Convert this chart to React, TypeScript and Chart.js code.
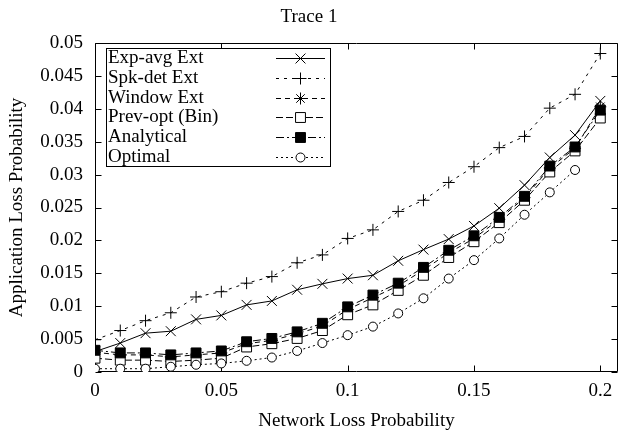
import React, { useEffect, useRef } from 'react';
import { Chart, registerables } from 'chart.js';
import { drawPoint } from 'chart.js/helpers';

Chart.register(...registerables);

const xValues = [0, 0.01, 0.02, 0.03, 0.04, 0.05, 0.06, 0.07, 0.08, 0.09, 0.1, 0.11, 0.12, 0.13, 0.14, 0.15, 0.16, 0.17, 0.18, 0.19, 0.2];

const expAvgExt = [0.0031, 0.0044, 0.0059, 0.0062, 0.0080, 0.0086, 0.0102, 0.0108, 0.0125, 0.0134, 0.0142, 0.0147, 0.0169, 0.0186, 0.0202, 0.0222, 0.0249, 0.0284, 0.0326, 0.0360, 0.0412];
const spkDetExt = [0.0049, 0.0063, 0.0078, 0.0090, 0.0114, 0.0122, 0.0135, 0.0145, 0.0166, 0.0178, 0.0203, 0.0216, 0.0244, 0.0261, 0.0288, 0.0312, 0.0341, 0.0358, 0.0401, 0.0422, 0.0484];
const windowExt = [0.0030, 0.0026, 0.0026, 0.0023, 0.0026, 0.0029, 0.0043, 0.0048, 0.0058, 0.0070, 0.0095, 0.0113, 0.0131, 0.0155, 0.0181, 0.0203, 0.0232, 0.0265, 0.0310, 0.0340, 0.0403];
const prevOptBin = [0.0021, 0.0018, 0.0018, 0.0016, 0.0018, 0.0021, 0.0038, 0.0043, 0.0051, 0.0063, 0.0087, 0.0102, 0.0124, 0.0147, 0.0174, 0.0198, 0.0227, 0.0261, 0.0304, 0.0336, 0.0386];
const analytical = [0.0033, 0.0029, 0.0029, 0.0026, 0.0029, 0.0032, 0.0046, 0.0051, 0.0061, 0.0074, 0.0099, 0.0117, 0.0135, 0.0159, 0.0185, 0.0207, 0.0235, 0.0267, 0.0313, 0.0342, 0.0398];
const optimal = [0.0005, 0.0005, 0.0005, 0.0008, 0.0011, 0.0013, 0.0017, 0.0022, 0.0032, 0.0044, 0.0056, 0.0069, 0.0089, 0.0112, 0.0142, 0.0170, 0.0203, 0.0239, 0.0273, 0.0307];

const seriesNames = ['Exp-avg Ext', 'Spk-det Ext', 'Window Ext', 'Prev-opt (Bin)', 'Analytical', 'Optimal'];
const xTickValues = [0, 0.05, 0.1, 0.15, 0.2];
const yTickValues = [0, 0.005, 0.01, 0.015, 0.02, 0.025, 0.03, 0.035, 0.04, 0.045, 0.05];

const FONT = "'Liberation Serif', 'Times New Roman', serif";

const toPoints = (ys: number[]) => ys.map((y, i) => ({ x: xValues[i], y }));

const styles = [
  { pointStyle: 'crossRot', radius: 7, dash: [] as number[], fill: '#000' },
  { pointStyle: 'cross', radius: 6, dash: [3, 5], fill: '#000' },
  { pointStyle: 'star', radius: 6, dash: [5, 4], fill: '#000' },
  { pointStyle: 'rect', radius: 7, dash: [7, 3], fill: '#fff' },
  { pointStyle: 'rect', radius: 7, dash: [8, 3, 2, 3], fill: '#000' },
  { pointStyle: 'circle', radius: 4.5, dash: [2, 3], fill: '#fff' },
];

const frameTicksPlugin = {
  id: 'frameTicks',
  beforeDatasetsDraw(chart: any) {
    const { ctx, chartArea } = chart;
    const l = Math.round(chartArea.left) + 0.5;
    const r = Math.round(chartArea.right) - 0.5;
    const t = Math.round(chartArea.top) + 0.5;
    const b = Math.round(chartArea.bottom) - 0.5;
    const xs = chart.scales.x;
    const ys = chart.scales.y;
    const len = 6;
    ctx.save();
    ctx.strokeStyle = '#000';
    ctx.lineWidth = 1;
    ctx.setLineDash([]);
    ctx.beginPath();
    ctx.rect(l, t, r - l, b - t);
    xTickValues.forEach((v) => {
      const px = Math.round(xs.getPixelForValue(v)) + 0.5;
      ctx.moveTo(px, b);
      ctx.lineTo(px, b - len);
      ctx.moveTo(px, t);
      ctx.lineTo(px, t + len);
    });
    yTickValues.forEach((v) => {
      const py = Math.round(ys.getPixelForValue(v)) + 0.5;
      ctx.moveTo(l, py);
      ctx.lineTo(l + len, py);
      ctx.moveTo(r, py);
      ctx.lineTo(r - len, py);
    });
    ctx.stroke();
    ctx.restore();
  },
};

const keyPlugin = {
  id: 'gnuKey',
  afterDatasetsDraw(chart: any) {
    const { ctx } = chart;
    const boxL = 106.5, boxT = 48.5, boxR = 330.5, boxB = 166.5;
    const rowH = 19.7;
    const firstRow = 58.3;
    ctx.save();
    ctx.fillStyle = '#fff';
    ctx.fillRect(boxL, boxT, boxR - boxL, boxB - boxT);
    ctx.strokeStyle = '#000';
    ctx.lineWidth = 1;
    ctx.setLineDash([]);
    ctx.strokeRect(boxL, boxT, boxR - boxL, boxB - boxT);
    ctx.font = `19px ${FONT}`;
    ctx.textBaseline = 'middle';
    ctx.textAlign = 'left';
    chart.data.datasets.forEach((ds: any, i: number) => {
      const y = firstRow + i * rowH;
      ctx.fillStyle = '#000';
      ctx.fillText(ds.label, 108, y);
      ctx.beginPath();
      ctx.setLineDash(styles[i].dash);
      ctx.moveTo(276, Math.round(y) + 0.5);
      ctx.lineTo(325, Math.round(y) + 0.5);
      ctx.stroke();
      ctx.setLineDash([]);
      ctx.fillStyle = styles[i].fill;
      ctx.strokeStyle = '#000';
      drawPoint(ctx, { pointStyle: styles[i].pointStyle, rotation: 0, radius: styles[i].radius, borderWidth: 1 } as any, 300.5, Math.round(y) + 0.5);
    });
    ctx.restore();
  },
};

export default function App() {
  const ref = useRef<HTMLCanvasElement>(null);
  useEffect(() => {
    document.body.style.margin = '0';
    const seriesData = [expAvgExt, spkDetExt, windowExt, prevOptBin, analytical, optimal];
    const chart = new Chart(ref.current as HTMLCanvasElement, {
      type: 'line',
      data: {
        datasets: seriesData.map((ys, i) => ({
          label: seriesNames[i],
          data: toPoints(ys),
          borderColor: '#000',
          borderWidth: 1,
          borderDash: styles[i].dash,
          backgroundColor: styles[i].fill,
          pointStyle: styles[i].pointStyle as any,
          pointRadius: styles[i].radius,
          pointBorderWidth: 1,
          pointBorderColor: '#000',
          pointBackgroundColor: styles[i].fill,
          tension: 0,
          fill: false,
          order: 10 - i,
        })),
      },
      options: {
        animation: false,
        responsive: false,
        devicePixelRatio: 1,
        layout: { padding: { left: 0, right: 8, top: 0, bottom: 0 } },
        plugins: {
          legend: { display: false },
          tooltip: { enabled: false },
          title: {
            display: true,
            text: 'Trace 1',
            color: '#000',
            font: { family: FONT, size: 19, weight: 'normal' as any, lineHeight: 1.2 },
            padding: { top: 6, bottom: 14.2 },
          },
        },
        scales: {
          x: {
            type: 'linear',
            min: 0,
            max: 0.207,
            grid: { display: false, drawTicks: false },
            border: { display: false },
            afterFit: (s: any) => { s.height = 67; },
            ticks: {
              stepSize: 0.05,
              includeBounds: false,
              padding: 8,
              color: '#000',
              maxRotation: 0,
              font: { family: FONT, size: 19 },
              callback: (v: any) => String(Number(Number(v).toFixed(3))),
            },
            title: {
              display: true,
              text: 'Network Loss Probability',
              color: '#000',
              font: { family: FONT, size: 19, lineHeight: 1.2 },
              padding: { top: 0, bottom: 6.6 },
            },
          },
          y: {
            type: 'linear',
            min: 0,
            max: 0.05,
            grid: { display: false, drawTicks: false },
            border: { display: false },
            afterFit: (s: any) => { s.width = 95; },
            ticks: {
              stepSize: 0.005,
              padding: 12,
              color: '#000',
              font: { family: FONT, size: 19 },
              callback: (v: any) => String(Number(Number(v).toFixed(3))),
            },
            title: {
              display: true,
              text: 'Application Loss Probability',
              color: '#000',
              font: { family: FONT, size: 19, lineHeight: 1.2 },
              padding: { top: 6, bottom: 0 },
            },
          },
        },
      },
      plugins: [frameTicksPlugin, keyPlugin],
    });
    return () => chart.destroy();
  }, []);
  return <canvas ref={ref} width={626} height={439} />;
}
